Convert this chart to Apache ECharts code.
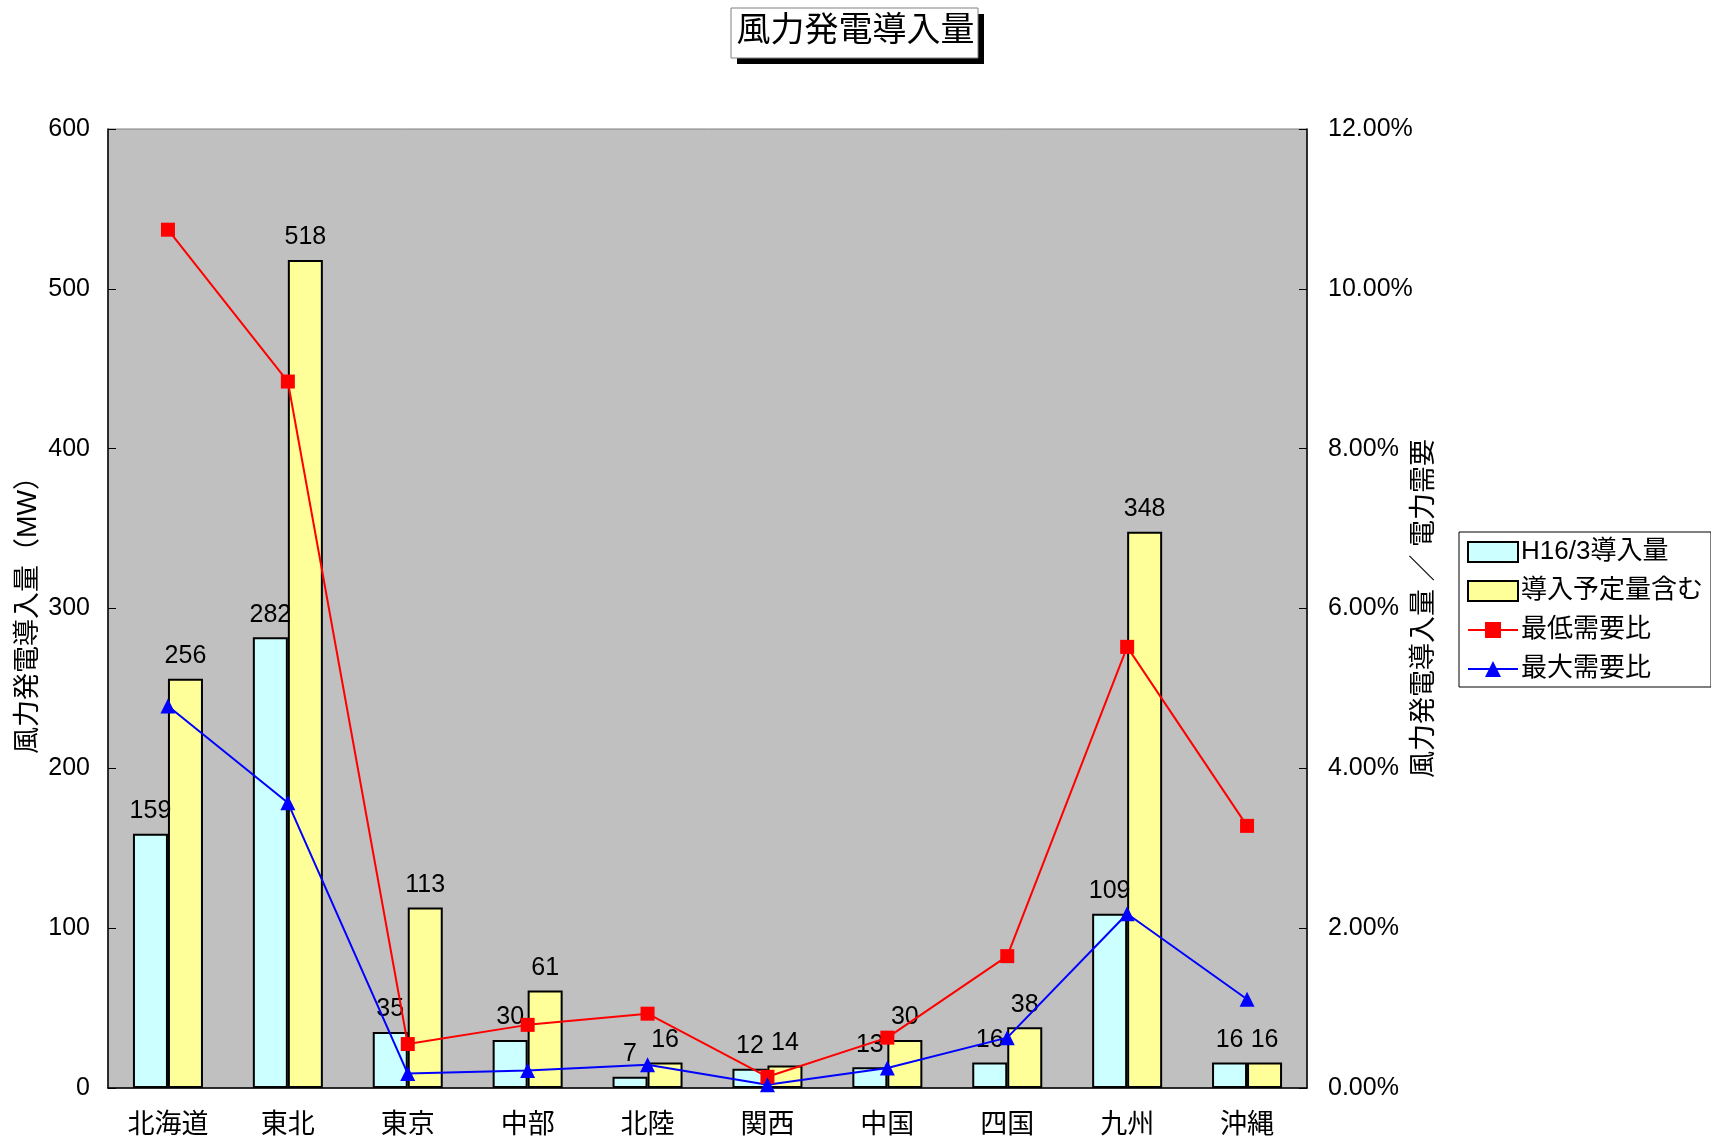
<!DOCTYPE html>
<html>
<head>
<meta charset="utf-8">
<title>風力発電導入量</title>
<script src="https://cdn.jsdelivr.net/npm/echarts@6/dist/echarts.min.js"></script>
<style>
  html, body { margin: 0; padding: 0; background: #fff; }
  #chart { width: 1711px; height: 1141px; }
</style>
</head>
<body>
<div id="chart"></div>
<script>
// 地域
var regions = ['北海道', '東北', '東京', '中部', '北陸', '関西', '中国', '四国', '九州', '沖縄']
// 導入量 (MW)
var installedH16 = [159, 282, 35, 30, 7, 12, 13, 16, 109, 16]
var plannedTotal = [256, 518, 113, 61, 16, 14, 30, 38, 348, 16]
// 需要比 (%)
var minDemandRatio = [10.74, 8.84, 0.55, 0.79, 0.93, 0.14, 0.63, 1.65, 5.52, 3.28]
var maxDemandRatio = [4.78, 3.57, 0.18, 0.22, 0.29, 0.04, 0.25, 0.63, 2.18, 1.11]

var FONT = "'Liberation Sans', 'Noto Sans CJK JP', sans-serif"

var chart = echarts.init(document.getElementById('chart'), null, { renderer: 'canvas' })

chart.setOption({
  animation: false,
  textStyle: {
    fontFamily: FONT,
    color: '#000'
  },
  // タイトルの枠と影
  graphic: [
    {
      type: 'rect',
      z: 0,
      shape: { x: 737, y: 14, width: 247, height: 50 },
      style: { fill: '#000' }
    },
    {
      type: 'rect',
      z: 1,
      shape: { x: 731, y: 8, width: 247, height: 50 },
      style: { fill: '#fff', stroke: '#808080', lineWidth: 1 }
    }
  ],
  title: {
    text: '風力発電導入量',
    left: 'center',
    top: 15,
    padding: 0,
    z: 10,
    textStyle: {
      fontFamily: FONT,
      fontSize: 34,
      fontWeight: 'normal',
      color: '#000'
    }
  },
  legend: {
    orient: 'vertical',
    left: 1459,
    top: 532,
    padding: [7, 8, 5, 8],
    itemGap: 13,
    itemWidth: 50,
    itemHeight: 20,
    borderColor: '#000',
    borderWidth: 1,
    backgroundColor: '#fff',
    textStyle: {
      fontSize: 26,
      color: '#000',
      padding: [0, 0, 0, -2]
    },
    data: [
      { name: 'H16/3導入量', icon: 'rect' },
      { name: '導入予定量含む', icon: 'rect' },
      { name: '最低需要比' },
      { name: '最大需要比' }
    ]
  },
  grid: {
    left: 108,
    right: 404,
    top: 129,
    bottom: 53,
    show: true,
    backgroundColor: '#c0c0c0',
    borderColor: '#808080',
    borderWidth: 1
  },
  xAxis: {
    type: 'category',
    data: regions,
    axisLine: { lineStyle: { color: '#000', width: 1.5 } },
    axisTick: { inside: true, length: 9, lineStyle: { color: '#000' } },
    axisLabel: {
      fontSize: 27,
      color: '#000',
      margin: 24
    }
  },
  yAxis: [
    {
      type: 'value',
      min: 0,
      max: 600,
      interval: 100,
      name: '風力発電導入量（MW）',
      nameLocation: 'middle',
      nameRotate: 90,
      nameGap: 66,
      nameMoveOverlap: false,
      nameTextStyle: { fontSize: 27, color: '#000' },
      axisLine: { show: true, lineStyle: { color: '#000', width: 1.5 } },
      axisTick: { show: true, inside: true, length: 8, lineStyle: { color: '#000' } },
      splitLine: { show: false },
      axisLabel: { fontSize: 25, color: '#000', margin: 18 }
    },
    {
      type: 'value',
      min: 0,
      max: 12,
      interval: 2,
      name: '風力発電導入量 ／ 電力需要',
      nameLocation: 'middle',
      nameRotate: 90,
      nameGap: 104,
      nameMoveOverlap: false,
      nameTextStyle: { fontSize: 27, color: '#000' },
      axisLine: { show: true, lineStyle: { color: '#000', width: 1.5 } },
      axisTick: { show: true, inside: true, length: 8, lineStyle: { color: '#000' } },
      splitLine: { show: false },
      axisLabel: {
        fontSize: 25,
        color: '#000',
        margin: 21,
        formatter: function(v) {
          return v.toFixed(2) + '%'
        }
      }
    }
  ],
  series: [
    {
      name: 'H16/3導入量',
      type: 'bar',
      barWidth: 35,
      barGap: '0%',
      itemStyle: { color: '#ccffff', borderColor: '#000', borderWidth: 2 },
      label: { show: true, position: 'top', distance: 10, fontSize: 25, color: '#000' },
      data: installedH16
    },
    {
      name: '導入予定量含む',
      type: 'bar',
      barWidth: 35,
      itemStyle: { color: '#ffff99', borderColor: '#000', borderWidth: 2 },
      label: { show: true, position: 'top', distance: 10, fontSize: 25, color: '#000' },
      data: plannedTotal
    },
    {
      name: '最低需要比',
      type: 'line',
      yAxisIndex: 1,
      symbol: 'rect',
      symbolSize: 14,
      z: 5,
      lineStyle: { color: '#ff0000', width: 2 },
      itemStyle: { color: '#ff0000' },
      data: minDemandRatio
    },
    {
      name: '最大需要比',
      type: 'line',
      yAxisIndex: 1,
      symbol: 'triangle',
      symbolSize: 15,
      z: 5,
      lineStyle: { color: '#0000ff', width: 2 },
      itemStyle: { color: '#0000ff' },
      data: maxDemandRatio
    }
  ]
})
</script>
</body>
</html>
